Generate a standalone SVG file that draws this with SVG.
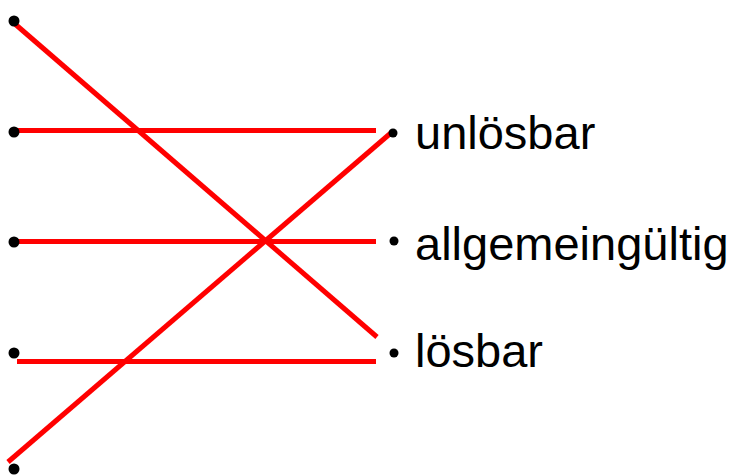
<svg xmlns="http://www.w3.org/2000/svg" width="738" height="475" viewBox="0 0 738 475">
  <style>
    .link { stroke: #ff0000; stroke-width: 5; fill: none; }
    .dot { fill: #000000; }
    .label { font-family: "Liberation Sans", Arial, sans-serif; font-size: 47px; fill: #000000; }
  </style>
  <rect width="738" height="475" fill="#ffffff"/>

  <!-- connectors -->
  <g id="connectors">
    <line class="link" x1="15" y1="24" x2="377" y2="337"/>
    <line class="link" x1="17" y1="130.5" x2="376" y2="130.5"/>
    <line class="link" x1="17" y1="241.5" x2="376" y2="241.5"/>
    <line class="link" x1="17" y1="361.5" x2="376" y2="361.5"/>
    <line class="link" x1="8" y1="462" x2="392" y2="132"/>
  </g>

  <!-- left points -->
  <g id="left-1"><circle class="dot" cx="14" cy="21" r="5.5"/></g>
  <g id="left-2"><circle class="dot" cx="14" cy="132" r="5.5"/></g>
  <g id="left-3"><circle class="dot" cx="14" cy="242" r="5.5"/></g>
  <g id="left-4"><circle class="dot" cx="14" cy="353" r="5.5"/></g>
  <g id="left-5"><circle class="dot" cx="14" cy="469" r="5.5"/></g>

  <!-- right labels -->
  <g id="unloesbar">
    <circle class="dot" cx="393" cy="133" r="4.5"/>
    <text class="label" x="415" y="149">unlösbar</text>
  </g>
  <g id="allgemeingueltig">
    <circle class="dot" cx="394" cy="241" r="4.5"/>
    <text class="label" x="415" y="260">allgemeingültig</text>
  </g>
  <g id="loesbar">
    <circle class="dot" cx="394" cy="353" r="4.5"/>
    <text class="label" x="415" y="367">lösbar</text>
  </g>
</svg>
